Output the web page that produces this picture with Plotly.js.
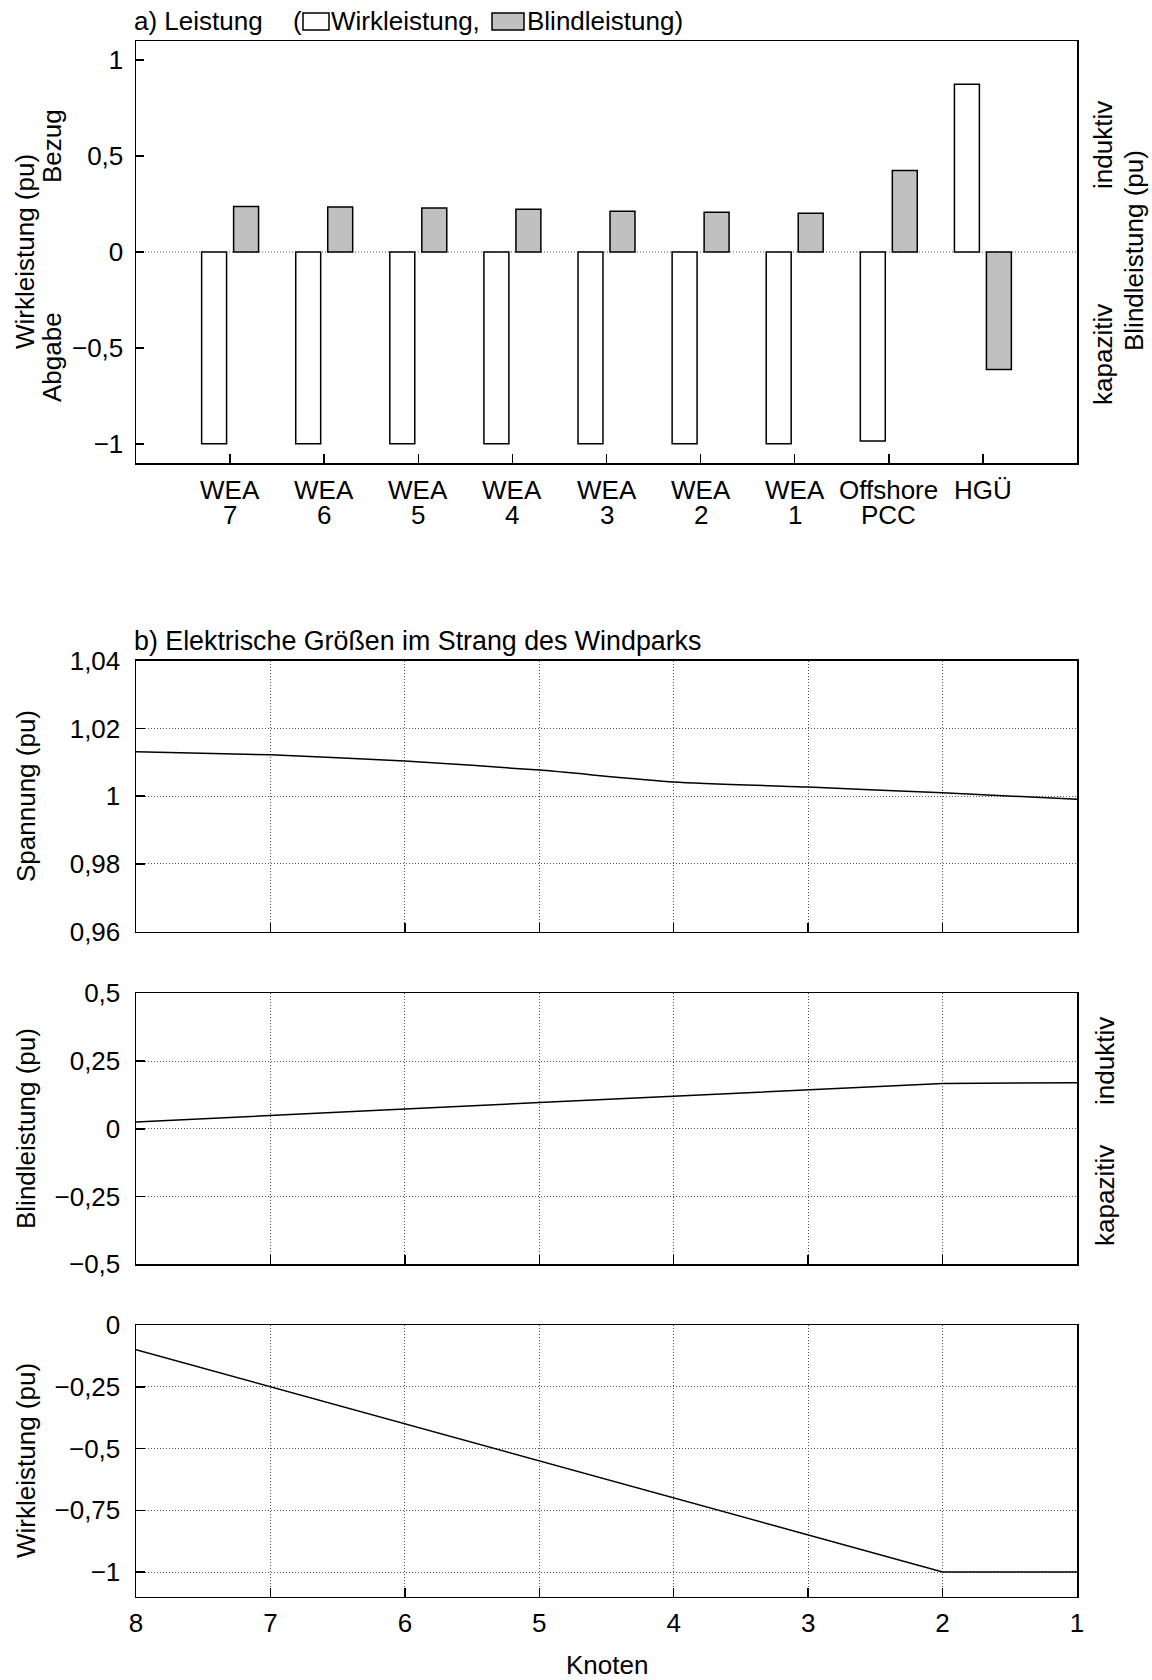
<!DOCTYPE html>
<html>
<head>
<meta charset="utf-8">
<script src="https://cdn.plot.ly/plotly-3.0.1.min.js"></script>
<style>
  html, body { margin: 0; padding: 0; background: #fff; }
  #chart { width: 1152px; height: 1680px; }
</style>
</head>
<body>
<div id="chart"></div>
<script>
// ---------- data: part a) ----------
const categories = ["WEA 7", "WEA 6", "WEA 5", "WEA 4", "WEA 3", "WEA 2", "WEA 1", "Offshore PCC", "HGÜ"];
const labelLine1 = ["WEA", "WEA", "WEA", "WEA", "WEA", "WEA", "WEA", "Offshore", "HGÜ"];
const labelLine2 = ["7", "6", "5", "4", "3", "2", "1", "PCC", ""];
const wirkleistungA = [-1.0, -1.0, -1.0, -1.0, -1.0, -1.0, -1.0, -0.985, 0.875];
const blindleistungA = [0.237, 0.235, 0.230, 0.223, 0.212, 0.207, 0.202, 0.425, -0.613];
const yTickValsA = [-1, -0.5, 0, 0.5, 1];
const yTickTextA = ["\u22121", "\u22120,5", "0", "0,5", "1"];

// ---------- data: part b) ----------
const knoten = [8, 7, 6, 5, 4, 3, 2, 1];
const knotenLabels = ["8", "7", "6", "5", "4", "3", "2", "1"];
const spannung = [1.0131, 1.0122, 1.0104, 1.0077, 1.0042, 1.0027, 1.0010, 0.9991];
const blindleistungB = [0.025, 0.050, 0.073, 0.097, 0.120, 0.144, 0.167, 0.170];
const wirkleistungB = [-0.10, -0.25, -0.40, -0.55, -0.70, -0.85, -1.00, -1.00];
const yTickValsV = [0.96, 0.98, 1.0, 1.02, 1.04];
const yTickTextV = ["0,96", "0,98", "1", "1,02", "1,04"];
const yTickValsQ = [-0.5, -0.25, 0, 0.25, 0.5];
const yTickTextQ = ["\u22120,5", "\u22120,25", "0", "0,25", "0,5"];
const yTickValsP = [-1, -0.75, -0.5, -0.25, 0];
const yTickTextP = ["\u22121", "\u22120,75", "\u22120,5", "\u22120,25", "0"];

// ---------- layout helpers ----------
const W = 1152, H = 1680;
const X = px => px / W;
const Y = py => 1 - py / H;
const FONT = "Liberation Sans, Arial, Helvetica, sans-serif";
const FS = 26;
const plotL = 136, plotR = 1077;

const traces = [
  { type: "bar", x: categories, y: wirkleistungA, name: "Wirkleistung",
    xaxis: "x", yaxis: "y",
    marker: { color: "#ffffff", line: { color: "#000", width: 1.5 } }, hoverinfo: "x+y" },
  { type: "bar", x: categories, y: blindleistungA, name: "Blindleistung",
    xaxis: "x", yaxis: "y",
    marker: { color: "#c0c0c0", line: { color: "#000", width: 1.5 } }, hoverinfo: "x+y" },
  { type: "scatter", mode: "lines", x: knoten, y: spannung, xaxis: "x2", yaxis: "y2",
    line: { color: "#000", width: 1.5, shape: "spline", smoothing: 0.6 } },
  { type: "scatter", mode: "lines", x: knoten, y: blindleistungB, xaxis: "x3", yaxis: "y3",
    line: { color: "#000", width: 1.5 } },
  { type: "scatter", mode: "lines", x: knoten, y: wirkleistungB, xaxis: "x4", yaxis: "y4",
    line: { color: "#000", width: 1.5 } }
];

const tickFont = { family: FONT, size: FS, color: "#000" };
const GRIDDASH = "1px,2px";

function lowerX(anchor, showLabels) {
  return {
    domain: [X(plotL), X(plotR)], anchor: anchor,
    range: [8, 1], tickmode: "array", tickvals: knoten, ticktext: knotenLabels,
    showticklabels: showLabels, tickfont: tickFont, ticklabelstandoff: 3,
    ticks: "inside", ticklen: 9, tickwidth: 1.5, tickcolor: "#000",
    showline: true, mirror: true, linecolor: "#000", linewidth: 1.5,
    showgrid: true, gridcolor: "#555", gridwidth: 1, griddash: GRIDDASH,
    zeroline: false, fixedrange: true
  };
}
function lowerY(anchor, top, bottom, range, vals, text) {
  return {
    domain: [Y(bottom), Y(top)], anchor: anchor,
    range: range, tickmode: "array", tickvals: vals, ticktext: text,
    tickfont: tickFont, ticklabelstandoff: 9,
    ticks: "inside", ticklen: 9, tickwidth: 1.5, tickcolor: "#000",
    showline: true, mirror: true, linecolor: "#000", linewidth: 1.5,
    showgrid: true, gridcolor: "#555", gridwidth: 1, griddash: GRIDDASH,
    zeroline: false, fixedrange: true
  };
}

const layout = {
  width: W, height: H,
  margin: { l: 0, r: 0, t: 0, b: 0 },
  paper_bgcolor: "#fff", plot_bgcolor: "#fff",
  showlegend: false,
  font: { family: FONT, size: FS, color: "#000" },
  barmode: "group", bargap: 0.32, bargroupgap: 0.22,
  xaxis: {
    domain: [X(plotL), X(plotR)], anchor: "y",
    type: "category", range: [-1, 9],
    showticklabels: false,
    ticks: "inside", ticklen: 9, tickwidth: 1.5, tickcolor: "#000",
    showline: true, mirror: true, linecolor: "#000", linewidth: 1.5,
    showgrid: false, zeroline: false, fixedrange: true
  },
  yaxis: {
    domain: [Y(463), Y(41)], anchor: "x",
    range: [-1.1, 1.1], tickmode: "array", tickvals: yTickValsA, ticktext: yTickTextA,
    tickfont: tickFont, ticklabelstandoff: 6,
    ticks: "inside", ticklen: 8, tickwidth: 1.5, tickcolor: "#000",
    showline: true, mirror: true, linecolor: "#000", linewidth: 1.5,
    showgrid: false, zeroline: false, fixedrange: true
  },
  xaxis2: lowerX("y2", false),
  yaxis2: lowerY("x2", 660.7, 931.7, [0.96, 1.04], yTickValsV, yTickTextV),
  xaxis3: lowerX("y3", false),
  yaxis3: lowerY("x3", 993.3, 1264.3, [-0.5, 0.5], yTickValsQ, yTickTextQ),
  xaxis4: lowerX("y4", true),
  yaxis4: lowerY("x4", 1325, 1596.7, [-1.1, 0], yTickValsP, yTickTextP),
  shapes: [
    { type: "line", xref: "x domain", x0: 0, x1: 1, yref: "y", y0: 0, y1: 0,
      layer: "below", line: { color: "#555", width: 1, dash: GRIDDASH } },
    // legend boxes in title a)
    { type: "rect", xref: "paper", yref: "paper",
      x0: X(303), x1: X(329), y0: Y(30), y1: Y(13),
      fillcolor: "#fff", line: { color: "#000", width: 1.5 } },
    { type: "rect", xref: "paper", yref: "paper",
      x0: X(492), x1: X(524), y0: Y(30), y1: Y(13),
      fillcolor: "#c0c0c0", line: { color: "#000", width: 1.5 } }
  ],
  annotations: []
};

function txt(text, px, py, opts) {
  return Object.assign({
    text: text, xref: "paper", yref: "paper", x: X(px), y: Y(py),
    xanchor: "center", yanchor: "middle", showarrow: false,
    font: { family: FONT, size: FS, color: "#000" }
  }, opts || {});
}
const A = layout.annotations;
// titles
A.push(txt("a) Leistung", 132, 21, { xanchor: "left" }));
A.push(txt("(", 291, 21, { xanchor: "left" }));
A.push(txt("Wirkleistung,", 329, 21, { xanchor: "left" }));
A.push(txt("Blindleistung)", 525, 21, { xanchor: "left" }));
A.push(txt("b) Elektrische Größen im Strang des Windparks", 132, 641,
  { xanchor: "left", font: { family: FONT, size: 26.8, color: "#000" } }));

// axis labels part a)
A.push(txt("Wirkleistung (pu)", 25, 252, { textangle: -90 }));
A.push(txt("Bezug", 52, 146, { textangle: -90 }));
A.push(txt("Abgabe", 52, 357, { textangle: -90 }));
A.push(txt("induktiv", 1103, 145, { textangle: -90 }));
A.push(txt("kapazitiv", 1103, 355, { textangle: -90 }));
A.push(txt("Blindleistung (pu)", 1134, 251, { textangle: -90 }));

// category labels part a)
categories.forEach((c, i) => {
  A.push({ text: labelLine1[i], xref: "x", yref: "paper", x: c, y: Y(490),
    xanchor: "center", yanchor: "middle", showarrow: false, font: tickFont });
  if (labelLine2[i]) {
    A.push({ text: labelLine2[i], xref: "x", yref: "paper", x: c, y: Y(515),
      xanchor: "center", yanchor: "middle", showarrow: false, font: tickFont });
  }
});

// axis labels part b)
A.push(txt("Spannung (pu)", 26, 796, { textangle: -90 }));
A.push(txt("Blindleistung (pu)", 26, 1129, { textangle: -90 }));
A.push(txt("induktiv", 1105, 1061, { textangle: -90 }));
A.push(txt("kapazitiv", 1105, 1196, { textangle: -90 }));
A.push(txt("Wirkleistung (pu)", 26, 1461, { textangle: -90 }));
A.push(txt("Knoten", 606.5, 1665));

Plotly.newPlot("chart", traces, layout, { staticPlot: true, displayModeBar: false });
</script>
</body>
</html>
